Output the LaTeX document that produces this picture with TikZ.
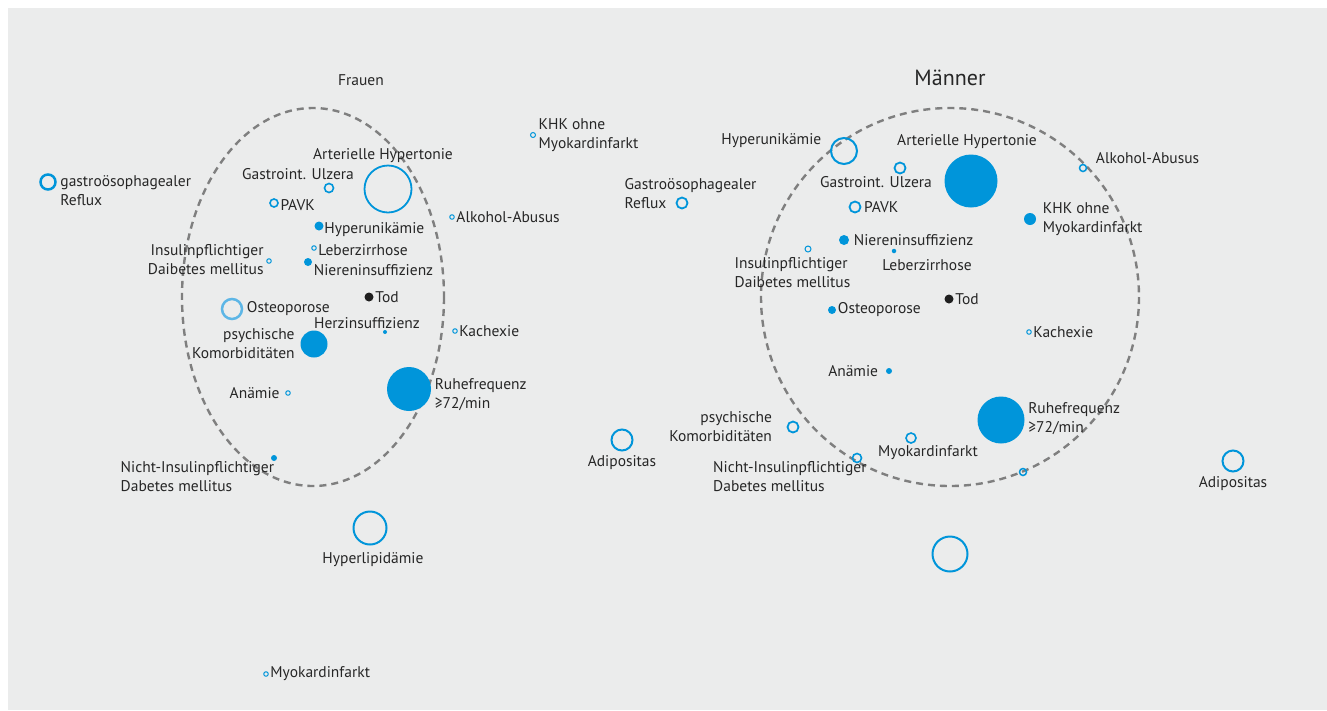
\documentclass[tikz,border=0pt]{standalone}
\usepackage{fontspec}
\setmainfont{PT Sans}
\usetikzlibrary{positioning}
\definecolor{tblue}{HTML}{0095DA}
\definecolor{tlight}{HTML}{5DB6E6}
\definecolor{tback}{HTML}{EBECEC}
\definecolor{tdash}{HTML}{7F7F7F}
\definecolor{ttext}{HTML}{262626}
\tikzset{%
	dot/.style={
		circle,
		fill=tblue,
		draw=none,
		inner sep=0pt,
		minimum size=#1
	},
	ring/.style={
		circle,
		draw=tblue,
		line width=1.6pt,
		inner sep=0pt,
		minimum size=#1
	},
	thinring/.style={ring=#1, line width=1pt},
	lbl/.style={text=ttext, inner sep=0.5pt, font=\fontsize{15.5}{19}\selectfont},
	group/.style={draw=tdash, line width=2.4pt, dash pattern=on 7pt off 5pt},
}
\begin{document}
\begin{tikzpicture}[x=1pt, y=-1pt]
	\useasboundingbox (0,0) rectangle (1327,710);
	\fill[tback] (8,8) rectangle (1327,710);
	
	% Groups
	\draw[group] (313,297) ellipse [x radius=131, y radius=189];
	\draw[group] (950,297) circle [radius=189];
	\node[lbl] (frauen) at (361,80) {Frauen};
	\node[lbl, font=\fontsize{22}{26}\selectfont] (maenner) at (950,78) {Männer};
	
	% Frauen
	\node[thinring=5] (fKHK) at (533,135) {};
	\node[lbl, align=left, right=2pt of fKHK] {KHK ohne\\Myokardinfarkt};
	\node[ring=15, line width=2.5pt] (fGR) at (48,182) {};
	\node[lbl, align=left, right=3pt of fGR, yshift=-9pt] {gastroösophagealer\\Reflux};
	\node[ring=47, line width=1.8pt] (fAH) at (388,189) {};
	\node[lbl, above=1pt of fAH, xshift=-5pt] {Arterielle Hypertonie};
	\node[ring=9] (fGU) at (329,188) {};
	\node[lbl, above=2pt of fGU, xshift=-31pt] {Gastroint. Ulzera};
	\node[ring=8] (fPAVK) at (274,203) {};
	\node[lbl, right=1pt of fPAVK, yshift=-2pt] {PAVK};
	\node[thinring=4.5] (fAA) at (452,217) {};
	\node[lbl, right=1pt of fAA] {Alkohol-Abusus};
	\node[dot=9] (fHU) at (319,226) {};
	\node[lbl, right=0pt of fHU, yshift=-4pt] {Hyperunikämie};
	\node[thinring=4.5] (fLZ) at (314,248) {};
	\node[lbl, right=1pt of fLZ, yshift=-2pt] {Leberzirrhose};
	\node[thinring=4.5] (fIDM) at (269,261) {};
	\node[lbl, align=right, left=2pt of fIDM, yshift=1.5pt] {Insulinpflichtiger\\Daibetes mellitus};
	\node[dot=8] (fNI) at (308,262) {};
	\node[lbl, right=1pt of fNI, yshift=-8pt] {Niereninsuffizienz};
	\node[dot=9, fill=black!88] (fTod) at (369,297) {};
	\node[lbl, right=1pt of fTod] {Tod};
	\node[ring=20, draw=tlight, line width=2.5pt] (fOP) at (232,309) {};
	\node[lbl, right=3pt of fOP] {Osteoporose};
	\node[dot=4] (fHI) at (385,332) {};
	\node[lbl, above=0pt of fHI, xshift=-18pt] {Herzinsuffizienz};
	\node[dot=27] (fPK) at (314,344) {};
	\node[lbl, align=right, left=5pt of fPK] {psychische\\Komorbiditäten};
	\node[thinring=4.5] (fKA) at (455,331) {};
	\node[lbl, right=1pt of fKA] {Kachexie};
	\node[dot=44] (fRF) at (409,389) {};
	\node[lbl, align=left, right=3pt of fRF, yshift=-6pt] {Ruhefrequenz\\≥72/min};
	\node[thinring=4.5] (fAN) at (288,393) {};
	\node[lbl, left=5pt of fAN] {Anämie};
	\node[dot=6] (fNIDM) at (274,458) {};
	\node[lbl, align=left, below left=0pt and -3pt of fNIDM] {Nicht-Insulinpflichtiger\\Dabetes mellitus};
	\node[ring=21, line width=2pt] (fAD) at (622,440) {};
	\node[lbl, below=3pt of fAD] {Adipositas};
	\node[ring=33, line width=2pt] (fHL) at (370,528) {};
	\node[lbl, below=6pt of fHL, xshift=3pt] {Hyperlipidämie};
	\node[thinring=4.5] (fMI) at (266,674) {};
	\node[lbl, right=1pt of fMI] {Myokardinfarkt};
	
	% Maenner
	\node[ring=26, line width=2pt] (mHU) at (844,151) {};
	\node[lbl, left=8pt of mHU, yshift=10pt] {Hyperunikämie};
	\node[dot=53] (mAH) at (971,181) {};
	\node[lbl, above=5pt of mAH, xshift=-4pt] {Arterielle Hypertonie};
	\node[ring=11, line width=1.8pt] (mGU) at (900,168) {};
	\node[lbl, below=1.5pt of mGU, xshift=-24pt] {Gastroint. Ulzera};
	\node[ring=7, line width=1.5pt] (mAA) at (1083,168) {};
	\node[lbl, right=8pt of mAA, yshift=10pt] {Alkohol-Abusus};
	\node[ring=11, line width=1.8pt] (mGR) at (682,203) {};
	\node[lbl, align=left, anchor=west] at (624,194) {Gastroösophagealer\\Reflux};
	\node[ring=11, line width=1.8pt] (mPAVK) at (855,207) {};
	\node[lbl, right=2pt of mPAVK] {PAVK};
	\node[dot=12] (mKHK) at (1030,219) {};
	\node[lbl, align=left, right=6pt of mKHK] {KHK ohne\\Myokardinfarkt};
	\node[dot=10] (mNI) at (844,240) {};
	\node[lbl, right=4pt of mNI] {Niereninsuffizienz};
	\node[thinring=6] (mIDM) at (808,249) {};
	\node[lbl, align=left, below=4pt of mIDM, xshift=-15.5pt] {Insulinpflichtiger\\Daibetes mellitus};
	\node[dot=4.5] (mLZ) at (894,251) {};
	\node[lbl, below=5pt of mLZ, xshift=33pt] {Leberzirrhose};
	\node[dot=9, fill=black!88] (mTod) at (949,299) {};
	\node[lbl, right=1pt of mTod] {Tod};
	\node[dot=8] (mOP) at (832,310) {};
	\node[lbl, right=1pt of mOP] {Osteoporose};
	\node[thinring=4.5] (mKA) at (1029,332) {};
	\node[lbl, right=1pt of mKA] {Kachexie};
	\node[dot=6] (mAN) at (889,371) {};
	\node[lbl, left=7pt of mAN] {Anämie};
	\node[dot=47] (mRF) at (1001,420) {};
	\node[lbl, align=left, right=3pt of mRF, yshift=1.5pt] {Ruhefrequenz\\≥72/min};
	\node[ring=11, line width=1.8pt] (mPK) at (793,427) {};
	\node[lbl, align=right, left=14pt of mPK] {psychische\\Komorbiditäten};
	\node[ring=21, line width=2pt] (mAD) at (1233,461) {};
	\node[lbl, below=3pt of mAD] {Adipositas};
	\node[ring=10] (mMI) at (911,438) {};
	\node[lbl, below=1pt of mMI, xshift=17pt] {Myokardinfarkt};
	\node[ring=9] (mNIDM) at (857,458) {};
	\node[lbl, align=left, below left=-1pt and -14pt of mNIDM] {Nicht-Insulinpflichtiger\\Dabetes mellitus};
	\node[ring=7, line width=1.5pt] (mX) at (1023,472) {};
	\node[ring=35, line width=2pt] (mHL) at (950,554) {};
	
\end{tikzpicture}
\end{document}
